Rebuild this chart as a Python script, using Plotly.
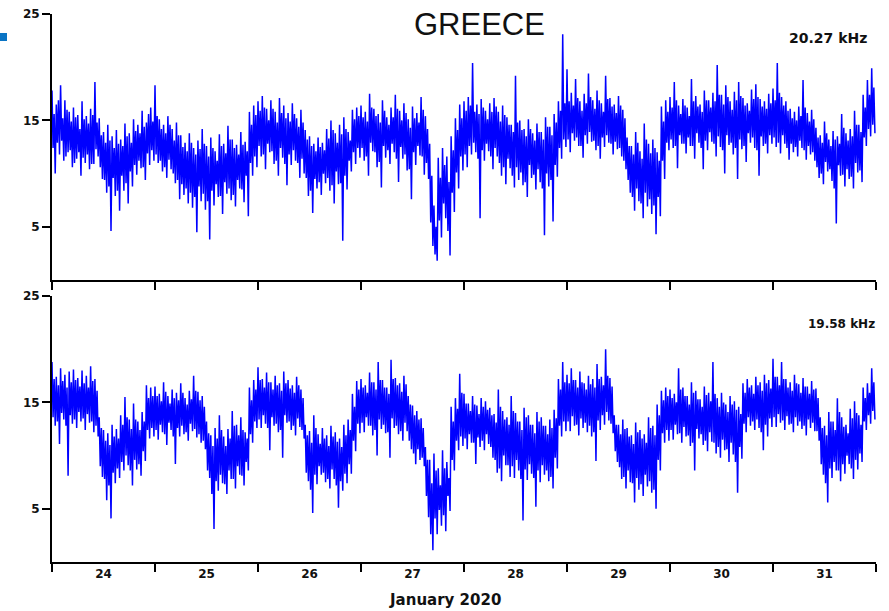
import plotly.graph_objects as go

# ---- data, Jan 24 .. Jan 31 2020 ----
# per hour: the extreme high / low reached, plus a second (core) high / low reading
day_labels = ["24", "25", "26", "27", "28", "29", "30", "31"]

top_hi = [
    17.8, 16.5, 18.3, 16.9, 15.8, 16.2, 15.5, 16.8, 15.4, 16.1, 18.6, 15.2, 13.9, 14.6, 13.5, 14.1, 13.2, 14.7, 13.8, 15.1, 14.6, 15.9, 14.8, 16.2,
    18.3, 15.1, 14.6, 15.4, 14.2, 14.8, 13.6, 12.9, 13.8, 12.4, 13.1, 14.2, 12.6, 13.4, 12.1, 13.7, 12.8, 14.5, 13.2, 12.7, 13.9, 13.0, 15.8, 16.4,
    16.8, 17.3, 16.1, 16.9, 15.8, 17.1, 16.4, 15.7, 16.6, 15.2, 16.0, 14.1, 13.5, 12.8, 13.4, 12.9, 14.2, 15.0, 13.8, 14.6, 15.3, 13.9, 16.0, 16.2,
    16.4, 15.8, 17.5, 16.1, 15.6, 16.9, 15.3, 16.2, 17.4, 15.9, 16.6, 15.1, 16.3, 15.7, 17.2, 15.4, 12.8, 7.0, 11.5, 12.4, 11.6, 13.5, 15.2, 16.5,
    16.8, 17.2, 20.4, 16.5, 17.0, 15.9, 16.6, 17.1, 15.8, 16.4, 15.3, 14.6, 19.2, 15.0, 14.2, 15.1, 13.8, 14.7, 13.9, 15.3, 14.4, 15.6, 16.8, 23.1,
    19.8, 17.6, 18.9, 16.8, 17.5, 19.4, 16.9, 17.8, 16.6, 19.2, 17.1, 16.5, 17.3, 16.0, 13.4, 12.6, 13.9, 12.1, 14.7, 12.8, 13.2, 12.0, 16.3, 16.9,
    17.2, 18.6, 16.4, 17.0, 16.2, 18.9, 17.3, 16.5, 17.8, 16.9, 17.6, 20.2, 17.4, 18.3, 16.8, 17.7, 18.6, 17.1, 16.6, 17.9, 18.4, 17.0, 16.8, 17.5,
    18.0, 20.4, 17.2, 16.8, 16.1, 15.8, 16.3, 18.8, 15.7, 16.0, 14.3, 13.6, 14.9, 13.2, 14.0, 13.5, 15.6, 13.8, 14.2, 15.9, 14.6, 17.4, 18.8, 19.9,
]
top_lo = [
    10.0, 11.8, 11.2, 12.0, 10.6, 11.4, 9.8, 11.0, 10.4, 10.9, 11.6, 9.5, 8.2, 4.6, 7.9, 6.5, 8.4, 7.2, 8.8, 9.9, 10.5, 9.4, 10.8, 11.2,
    11.0, 10.2, 9.6, 10.4, 9.1, 7.6, 8.0, 7.2, 6.8, 4.5, 7.4, 6.6, 3.8, 7.0, 7.8, 6.2, 8.1, 7.5, 6.9, 8.6, 7.3, 6.0, 9.8, 10.6,
    11.6, 10.4, 12.0, 10.9, 9.8, 11.5, 8.9, 10.8, 11.2, 9.6, 10.0, 7.9, 6.3, 8.6, 8.0, 9.1, 8.4, 7.2, 9.0, 3.7, 8.5, 10.2, 10.9, 11.5,
    11.2, 9.8, 12.1, 10.6, 8.7, 11.5, 10.9, 12.0, 9.2, 11.4, 10.3, 7.6, 10.8, 11.7, 9.9, 9.5, 3.2, 1.8, 4.0, 5.8, 2.3, 6.4, 8.6, 10.3,
    10.6, 11.8, 12.0, 5.8, 11.2, 12.1, 10.4, 11.6, 9.8, 9.0, 10.5, 8.7, 9.4, 8.9, 7.8, 9.6, 8.5, 9.2, 4.2, 8.8, 5.5, 9.7, 11.4, 12.5,
    12.0, 13.1, 12.6, 11.5, 12.8, 13.0, 12.2, 11.4, 12.5, 12.9, 11.8, 12.3, 11.6, 10.4, 8.2, 6.5, 7.4, 5.8, 6.9, 6.2, 4.3, 6.0, 9.5, 12.2,
    12.4, 10.5, 12.8, 11.9, 12.6, 11.4, 12.9, 10.4, 12.2, 13.0, 11.6, 12.5, 10.0, 12.7, 11.8, 9.5, 12.3, 11.1, 12.9, 12.4, 9.8, 12.6, 11.9, 12.8,
    12.5, 11.9, 12.8, 11.3, 12.0, 11.6, 12.4, 11.3, 11.8, 11.2, 9.6, 9.0, 10.2, 9.3, 5.3, 9.8, 8.8, 9.5, 8.6, 10.1, 9.2, 12.6, 13.5, 13.8,
]
top_hi2 = [
    15.6, 16.9, 15.2, 16.0, 14.9, 15.3, 14.2, 15.1, 14.7, 15.5, 14.8, 13.6, 12.9, 13.1, 12.4, 12.8, 12.6, 13.5, 12.9, 14.0, 13.8, 14.4, 15.6, 14.9,
    15.4, 14.2, 13.8, 14.6, 13.1, 13.6, 12.5, 12.1, 12.9, 11.8, 12.3, 12.8, 11.6, 12.4, 11.2, 12.6, 11.9, 13.2, 12.4, 11.8, 12.7, 12.1, 14.6, 15.5,
    15.9, 16.2, 15.0, 16.1, 14.8, 15.7, 15.2, 14.9, 15.6, 14.4, 14.8, 13.2, 12.6, 12.1, 12.5, 12.2, 13.3, 14.1, 12.9, 13.7, 14.2, 13.1, 15.1, 15.4,
    15.3, 14.9, 16.2, 15.4, 14.8, 15.9, 14.6, 15.3, 16.1, 15.0, 15.7, 14.3, 15.2, 14.8, 16.0, 14.2, 9.8, 5.0, 9.6, 10.8, 9.2, 12.2, 14.1, 15.2,
    15.9, 16.4, 15.8, 15.6, 16.2, 15.1, 15.8, 16.3, 14.9, 15.5, 14.6, 13.9, 14.8, 14.1, 13.5, 14.2, 13.1, 13.9, 13.2, 14.4, 13.6, 14.8, 15.9, 16.6,
    16.8, 16.4, 17.1, 15.9, 16.6, 17.2, 16.1, 16.9, 15.8, 17.0, 16.3, 15.7, 16.4, 15.2, 12.6, 11.8, 12.9, 11.4, 13.2, 11.9, 12.4, 11.2, 14.9, 15.8,
    16.2, 16.9, 15.6, 16.4, 15.4, 16.8, 16.3, 15.8, 16.9, 16.2, 16.8, 17.4, 16.5, 17.2, 16.0, 16.9, 17.3, 16.4, 15.9, 17.0, 17.2, 16.3, 16.1, 16.6,
    16.9, 17.6, 16.4, 15.9, 15.2, 15.0, 15.4, 16.2, 14.9, 15.1, 13.4, 12.9, 13.8, 12.6, 13.2, 12.8, 14.3, 13.1, 13.5, 14.6, 13.9, 16.2, 17.4, 18.1,
]
top_lo2 = [
    12.4, 12.9, 13.1, 11.6, 12.2, 11.0, 12.0, 11.5, 11.8, 10.9, 12.3, 10.6, 9.4, 8.8, 9.6, 8.4, 9.8, 9.1, 10.2, 10.8, 11.2, 10.6, 11.9, 12.2,
    11.8, 11.2, 10.6, 11.3, 10.0, 9.4, 9.0, 8.6, 8.2, 7.8, 8.8, 8.1, 7.4, 8.4, 9.0, 7.9, 9.2, 8.6, 8.0, 9.4, 8.5, 9.8, 11.0, 11.6,
    12.6, 11.8, 12.8, 12.1, 11.2, 12.4, 10.9, 11.8, 12.2, 11.0, 11.4, 9.6, 8.4, 9.5, 9.2, 10.0, 9.6, 8.9, 10.2, 9.1, 9.8, 11.2, 12.0, 12.4,
    12.4, 11.6, 12.9, 12.0, 11.1, 12.6, 12.2, 12.8, 11.4, 12.5, 11.8, 10.4, 12.0, 12.6, 11.6, 11.0, 5.4, 2.4, 5.6, 7.2, 4.6, 8.2, 10.1, 11.6,
    11.8, 12.6, 12.9, 11.4, 12.2, 12.8, 11.6, 12.4, 11.0, 10.6, 11.4, 9.8, 10.6, 10.1, 9.2, 10.8, 9.9, 10.4, 8.6, 10.0, 9.4, 10.8, 12.4, 13.2,
    13.2, 13.8, 13.4, 12.6, 13.6, 13.9, 13.1, 12.6, 13.4, 13.6, 12.8, 13.0, 12.4, 11.2, 9.4, 7.8, 8.6, 7.2, 8.2, 7.6, 7.0, 7.8, 11.2, 12.9,
    13.2, 12.6, 13.6, 12.8, 13.4, 12.6, 13.8, 12.4, 13.1, 13.9, 12.8, 13.5, 12.2, 13.6, 12.9, 12.4, 13.2, 12.6, 13.8, 13.4, 12.2, 13.5, 12.8, 13.6,
    13.4, 12.9, 13.6, 12.4, 12.8, 12.5, 13.1, 12.2, 12.6, 12.0, 10.6, 10.0, 11.1, 10.4, 8.6, 10.8, 9.9, 10.4, 9.7, 11.0, 10.3, 13.4, 14.2, 14.6,
]

bot_hi = [
    18.8, 17.4, 18.2, 17.6, 17.9, 18.1, 17.3, 18.0, 17.5, 18.4, 17.2, 13.6, 12.4, 12.1, 12.9, 12.5, 13.8, 15.5, 13.4, 14.9, 13.2, 14.1, 16.6, 16.4,
    16.5, 15.8, 16.9, 15.6, 16.2, 15.9, 16.8, 15.4, 16.1, 17.5, 16.0, 15.6, 13.2, 11.9, 12.6, 13.8, 11.8, 12.5, 14.2, 12.9, 13.6, 12.2, 16.4, 17.1,
    18.3, 17.2, 17.8, 16.9, 17.5, 16.8, 17.9, 17.1, 16.6, 17.4, 16.2, 12.9, 12.3, 13.8, 12.0, 12.6, 11.9, 12.8, 12.2, 11.6, 12.9, 13.4, 15.8, 17.0,
    17.2, 16.6, 17.8, 16.9, 18.8, 17.1, 16.4, 19.0, 17.3, 16.8, 17.5, 15.6, 14.7, 14.2, 13.5, 10.8, 9.6, 10.2, 8.8, 10.5, 9.4, 14.6, 15.4, 17.7,
    15.8, 14.9, 15.6, 14.7, 15.4, 15.1, 14.5, 13.9, 16.2, 14.2, 13.6, 15.6, 14.0, 13.2, 14.5, 13.8, 12.9, 14.1, 13.6, 12.8, 13.4, 14.3, 17.2, 18.8,
    17.6, 18.2, 17.1, 17.9, 16.8, 17.5, 17.2, 18.6, 17.4, 20.0, 17.3, 13.8, 12.9, 13.4, 12.6, 11.9, 13.1, 12.4, 12.0, 13.6, 12.8, 14.8, 16.1, 16.4,
    16.2, 15.8, 18.2, 16.4, 15.6, 16.9, 16.1, 15.3, 16.5, 15.9, 18.8, 15.4, 15.9, 14.8, 15.6, 15.1, 14.6, 16.8, 17.2, 16.6, 17.4, 16.9, 17.6, 17.1,
    19.1, 17.4, 18.8, 17.2, 16.9, 17.6, 16.7, 17.3, 16.5, 17.0, 16.3, 13.6, 12.8, 14.1, 13.2, 15.4, 13.6, 12.9, 14.4, 15.1, 13.8, 16.4, 16.8, 18.2,
]
bot_lo = [
    12.8, 11.1, 13.4, 8.1, 13.0, 12.6, 13.2, 12.4, 13.1, 12.2, 11.8, 8.0, 5.8, 4.1, 7.4, 7.9, 8.6, 9.1, 7.2, 8.7, 8.1, 9.5, 11.6, 11.8,
    11.5, 12.2, 11.0, 12.4, 9.2, 11.8, 12.0, 11.4, 12.3, 11.7, 11.2, 10.6, 7.9, 3.1, 6.7, 7.4, 6.4, 7.8, 6.9, 8.2, 7.2, 8.6, 11.2, 12.6,
    12.6, 13.0, 10.5, 12.8, 12.2, 9.8, 13.1, 12.4, 11.9, 12.7, 11.6, 7.6, 4.6, 7.3, 8.2, 7.5, 6.9, 7.8, 5.1, 6.7, 7.4, 8.3, 10.4, 12.1,
    12.2, 12.8, 11.9, 10.0, 12.5, 12.1, 9.8, 12.6, 12.0, 11.4, 12.3, 10.6, 9.2, 9.6, 9.0, 4.2, 1.1, 2.6, 3.4, 2.9, 4.8, 8.6, 10.5, 10.9,
    10.6, 11.2, 9.2, 10.8, 10.5, 11.1, 9.8, 8.4, 7.6, 9.1, 8.0, 7.9, 8.6, 3.9, 7.7, 8.3, 5.2, 7.5, 8.2, 7.6, 6.9, 8.8, 11.8, 12.3,
    12.3, 12.8, 11.9, 12.6, 12.2, 11.8, 9.5, 12.4, 12.9, 13.3, 12.1, 9.4, 7.8, 6.9, 7.5, 5.6, 6.8, 6.2, 7.1, 6.5, 5.0, 8.6, 11.2, 11.4,
    11.5, 12.0, 11.2, 11.8, 10.9, 8.6, 11.6, 11.0, 10.4, 11.3, 10.2, 9.8, 10.5, 9.4, 10.1, 6.5, 9.7, 12.2, 12.8, 12.4, 12.6, 10.5, 11.8, 12.7,
    12.7, 13.1, 12.4, 12.9, 12.2, 12.8, 12.5, 11.9, 12.6, 12.3, 11.4, 8.2, 5.6, 7.9, 8.6, 7.6, 8.3, 9.2, 7.8, 8.7, 9.4, 12.4, 13.0, 13.4,
]
bot_hi2 = [
    17.2, 16.6, 17.0, 16.4, 16.9, 17.1, 16.5, 16.8, 16.4, 17.0, 16.1, 12.6, 11.4, 11.0, 11.8, 11.6, 12.9, 13.6, 12.5, 13.4, 12.4, 13.2, 15.4, 15.6,
    15.6, 15.1, 16.0, 14.9, 15.4, 15.2, 15.9, 14.8, 15.3, 16.1, 15.2, 14.6, 12.1, 10.9, 11.6, 12.4, 10.9, 11.6, 12.8, 11.9, 12.4, 11.6, 15.2, 16.2,
    17.1, 16.4, 16.9, 16.2, 16.6, 16.1, 16.8, 16.3, 15.9, 16.6, 15.4, 11.9, 11.2, 12.6, 11.1, 11.6, 10.9, 11.8, 11.3, 10.8, 11.9, 12.4, 14.6, 16.2,
    16.4, 15.9, 16.9, 16.2, 17.1, 16.4, 15.8, 17.2, 16.6, 16.0, 16.7, 14.8, 13.8, 13.4, 12.6, 9.6, 7.4, 8.6, 7.2, 8.8, 7.9, 13.2, 14.4, 15.9,
    14.9, 14.2, 14.8, 13.9, 14.6, 14.3, 13.8, 13.1, 14.6, 13.4, 12.9, 14.2, 13.2, 12.4, 13.6, 12.9, 12.1, 13.2, 12.8, 12.0, 12.6, 13.5, 16.2, 16.9,
    16.8, 17.1, 16.4, 16.9, 16.2, 16.7, 16.4, 17.2, 16.6, 17.5, 16.5, 12.9, 12.0, 12.5, 11.8, 11.1, 12.2, 11.6, 11.2, 12.6, 11.9, 13.8, 15.2, 15.6,
    15.4, 15.0, 16.2, 15.6, 14.8, 15.9, 15.3, 14.6, 15.7, 15.1, 15.8, 14.6, 15.0, 14.1, 14.8, 14.3, 13.9, 15.9, 16.4, 15.8, 16.6, 16.1, 16.8, 16.3,
    17.4, 16.6, 17.2, 16.4, 16.1, 16.8, 15.9, 16.5, 15.8, 16.2, 15.4, 12.6, 11.9, 13.2, 12.4, 14.1, 12.7, 12.1, 13.5, 14.0, 12.9, 15.4, 15.9, 16.9,
]
bot_lo2 = [
    13.6, 13.2, 14.0, 12.8, 13.8, 13.4, 14.1, 13.5, 13.9, 13.2, 12.8, 9.0, 7.8, 7.2, 8.4, 8.8, 9.4, 10.0, 8.6, 9.6, 9.2, 10.4, 12.4, 12.6,
    12.4, 12.9, 12.0, 13.1, 11.8, 12.6, 12.8, 12.2, 13.0, 12.5, 12.0, 11.4, 8.6, 6.4, 7.6, 8.2, 7.3, 8.6, 7.8, 9.0, 8.1, 9.4, 12.0, 13.2,
    13.4, 13.8, 12.6, 13.6, 13.0, 12.4, 13.8, 13.2, 12.8, 13.5, 12.4, 8.4, 6.8, 8.2, 9.0, 8.4, 7.8, 8.7, 7.2, 7.6, 8.3, 9.2, 11.4, 13.0,
    13.1, 13.6, 12.8, 12.4, 13.4, 12.9, 12.2, 13.5, 12.8, 12.3, 13.1, 11.4, 10.2, 10.6, 9.8, 6.2, 2.6, 4.1, 4.9, 4.4, 6.2, 9.6, 11.4, 11.8,
    11.6, 12.0, 11.2, 11.7, 11.4, 12.0, 10.8, 9.6, 8.8, 10.0, 9.1, 9.0, 9.6, 7.8, 8.7, 9.2, 7.9, 8.6, 9.1, 8.6, 8.0, 9.8, 12.8, 13.2,
    13.2, 13.7, 12.9, 13.5, 13.1, 12.8, 12.2, 13.3, 13.8, 14.1, 13.0, 10.4, 8.9, 8.0, 8.6, 7.4, 7.9, 7.3, 8.2, 7.6, 6.8, 9.6, 12.1, 12.4,
    12.4, 12.9, 12.1, 12.7, 11.9, 11.2, 12.5, 12.0, 11.4, 12.2, 11.2, 10.8, 11.5, 10.6, 11.2, 9.4, 10.8, 13.0, 13.6, 13.2, 13.4, 12.2, 12.9, 13.5,
    13.6, 13.9, 13.3, 13.7, 13.0, 13.6, 13.2, 12.8, 13.4, 13.1, 12.3, 9.2, 7.4, 8.8, 9.4, 8.6, 9.2, 10.0, 8.8, 9.6, 10.2, 13.2, 13.8, 14.2,
]

top_label = "20.27 kHz"
bot_label = "19.58 kHz"
title_text = "GREECE"
xaxis_title = "January 2020"
first_day = 24


def build(hi, lo, hi2, lo2):
    xs, ys = [], []
    for i in range(len(hi)):
        t = first_day + i / 24.0
        for k, v in enumerate((hi[i], lo2[i], hi2[i], lo[i])):
            xs.append(t + k / 96.0)
            ys.append(v)
    return xs, ys


tx, ty = build(top_hi, top_lo, top_hi2, top_lo2)
bx, by = build(bot_hi, bot_lo, bot_hi2, bot_lo2)

W, H = 889, 611
L, R, T, B = 52, 13, 14, 49
PW, PH = W - L - R, H - T - B


def px(x):
    return (x - L) / PW


def py(y):
    return (H - B - y) / PH


line_color = "#0000ff"
fig = go.Figure()
fig.add_trace(go.Scatter(x=tx, y=ty, mode="lines", line=dict(color=line_color, width=1.5),
                         xaxis="x", yaxis="y", showlegend=False, hoverinfo="skip"))
fig.add_trace(go.Scatter(x=bx, y=by, mode="lines", line=dict(color=line_color, width=1.5),
                         xaxis="x2", yaxis="y2", showlegend=False, hoverinfo="skip"))

FONT = "DejaVu Sans, Liberation Sans, Arial, sans-serif"
tick_font = dict(family=FONT, size=12, color="#111111", weight="bold")
n_days = len(day_labels)
xr = [first_day, first_day + n_days]
centers = [first_day + k + 0.5 for k in range(n_days)]

common_x = dict(range=xr, showline=True, linecolor="black", linewidth=2, showgrid=False,
                zeroline=False, ticks="", tickvals=centers,
                minor=dict(ticks="outside", ticklen=8, tickwidth=2, tickcolor="black",
                           tick0=first_day, dtick=1, showgrid=False))
common_y = dict(range=[0, 25], showline=True, linecolor="black", linewidth=2, showgrid=False,
                zeroline=False, ticks="outside", ticklen=8, tickwidth=2, tickcolor="black",
                tickvals=[5, 15, 25], ticktext=["5", "15", "25"], tickfont=tick_font)

fig.update_layout(
    width=W, height=H,
    margin=dict(l=L, r=R, t=T, b=B, autoexpand=False),
    plot_bgcolor="white", paper_bgcolor="white",
    xaxis=dict(common_x, domain=[0, 1], anchor="y", showticklabels=False),
    yaxis=dict(common_y, domain=[py(280), 1], anchor="x"),
    xaxis2=dict(common_x, domain=[0, 1], anchor="y2", showticklabels=True,
                ticktext=day_labels, tickfont=tick_font),
    yaxis2=dict(common_y, domain=[0, py(296)], anchor="x2"),
    showlegend=False,
)

fig.add_annotation(text=title_text, xref="paper", yref="paper", x=px(479), y=py(24),
                   showarrow=False, xanchor="center", yanchor="middle",
                   font=dict(family="Liberation Sans, Arial, sans-serif", size=31, color="#111111"))
fig.add_annotation(text=top_label, xref="paper", yref="paper", x=px(869), y=py(38),
                   showarrow=False, xanchor="right", yanchor="middle",
                   font=dict(family=FONT, size=14, color="#111111", weight="bold"))
fig.add_annotation(text=bot_label, xref="paper", yref="paper", x=px(877), y=py(324),
                   showarrow=False, xanchor="right", yanchor="middle",
                   font=dict(family=FONT, size=12, color="#111111", weight="bold"))
fig.add_annotation(text=xaxis_title, xref="paper", yref="paper", x=px(445), y=py(600),
                   showarrow=False, xanchor="center", yanchor="middle",
                   font=dict(family=FONT, size=15, color="#111111", weight="bold"))
# small blue marker square at the top-left corner
fig.add_shape(type="rect", xref="paper", yref="paper",
              x0=px(0), x1=px(7), y0=py(41), y1=py(33),
              fillcolor="#0a74c4", line=dict(width=0))

fig.write_html("out.html", config={"displayModeBar": False},
               post_script="document.body.style.margin='0';document.body.style.overflow='hidden';")
